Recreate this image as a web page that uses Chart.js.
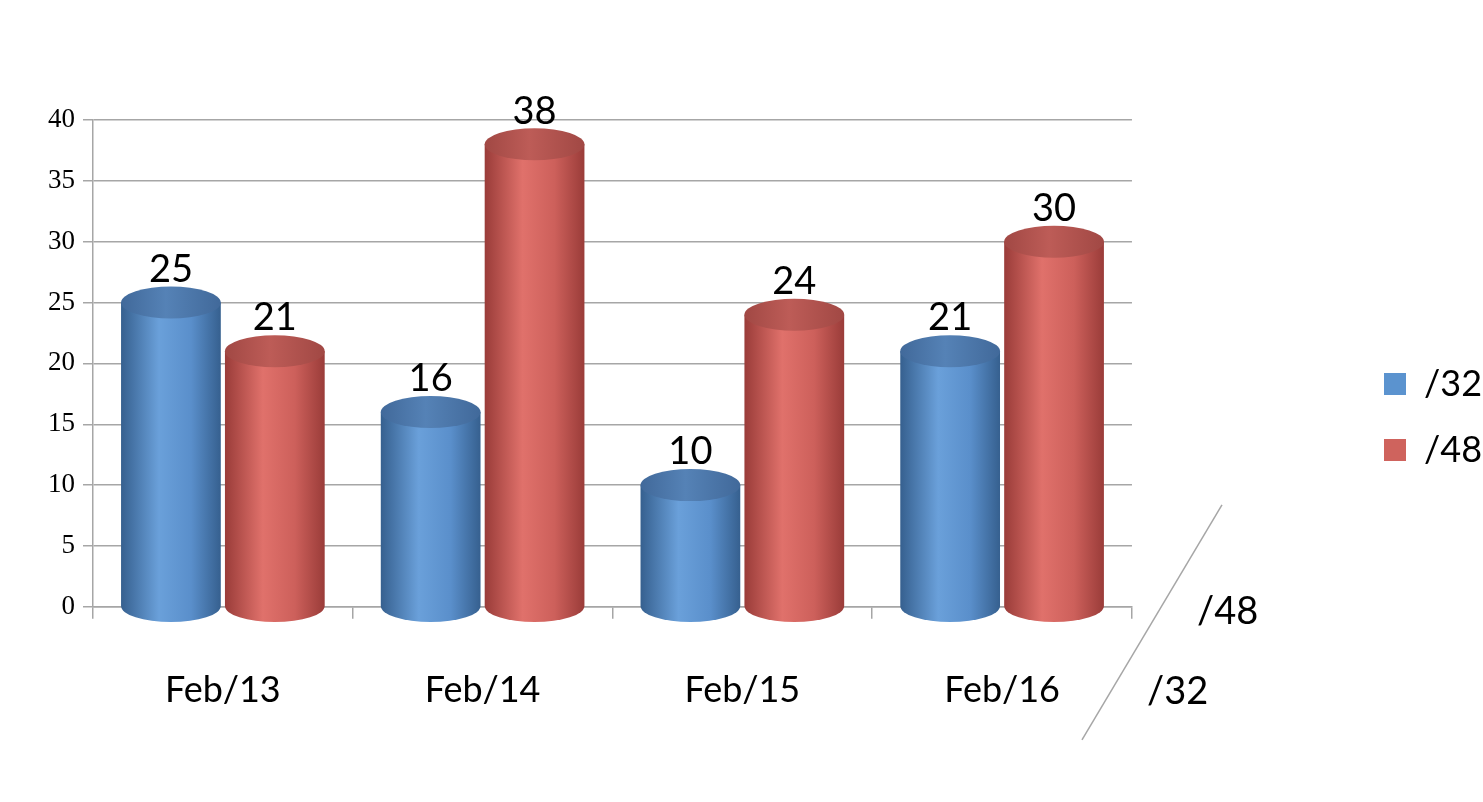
<!DOCTYPE html>
<html>
<head>
<meta charset="utf-8">
<script src="https://cdn.jsdelivr.net/npm/chart.js@4.4.1/dist/chart.umd.min.js"></script>
<style>
  html, body { margin: 0; padding: 0; background: #fff; }
  #wrap { width: 1483px; height: 802px; }
</style>
</head>
<body>
<div id="wrap"><canvas id="chart"></canvas></div>
<script>
const categories = ["Feb/13", "Feb/14", "Feb/15", "Feb/16"];
const seriesNames = ["/32", "/48"];
const values32 = [25, 16, 10, 21];
const values48 = [21, 38, 24, 30];
const yMin = 0;
const yMax = 40;
const yStep = 5;

const SANS = "Lato, 'Open Sans', sans-serif";
const GRID = "#a6a6a6";
const CAP_RY = 16;
const LEGEND_X = 1384;

const shades = {
  "/32": { edge: "#36608f", light: "#6aa0da", mid: "#5a8fcb", cap: "#41699a", capLight: "#5582b6" },
  "/48": { edge: "#9a3c39", light: "#e0716b", mid: "#cd605b", cap: "#a14844", capLight: "#bd5c57" },
};

// draw each bar as a shaded cylinder with its value on top
const cylinderPlugin = {
  id: "cylinders",
  beforeDatasetsDraw(chart) {
    const ctx = chart.ctx;
    chart.data.datasets.forEach((ds, i) => {
      const meta = chart.getDatasetMeta(i);
      const c = shades[ds.label];
      meta.data.forEach((bar, j) => {
        const { x, y, base, width } = bar.getProps(["x", "y", "base", "width"], true);
        const l = x - width / 2;
        const r = x + width / 2;
        const rx = width / 2;

        const body = ctx.createLinearGradient(l, 0, r, 0);
        body.addColorStop(0, c.edge);
        body.addColorStop(0.38, c.light);
        body.addColorStop(0.7, c.mid);
        body.addColorStop(1, c.edge);

        ctx.save();
        ctx.fillStyle = body;
        ctx.beginPath();
        ctx.moveTo(l, y);
        ctx.lineTo(l, base);
        ctx.ellipse(x, base, rx, CAP_RY, 0, Math.PI, 0, true);
        ctx.lineTo(r, y);
        ctx.closePath();
        ctx.fill();

        const cap = ctx.createLinearGradient(l, 0, r, 0);
        cap.addColorStop(0, c.cap);
        cap.addColorStop(0.45, c.capLight);
        cap.addColorStop(1, c.cap);
        ctx.fillStyle = cap;
        ctx.beginPath();
        ctx.ellipse(x, y, rx, CAP_RY, 0, 0, Math.PI * 2);
        ctx.fill();

        ctx.fillStyle = "#000";
        ctx.font = `38px ${SANS}`;
        ctx.textAlign = "center";
        ctx.textBaseline = "bottom";
        ctx.fillText(String(ds.data[j]), x, y - CAP_RY + 2);
        ctx.restore();
      });
    });
    return false;
  },
};

// move the legend over to the right edge, leaving room for the depth labels
const legendShift = {
  id: "legendShift",
  afterLayout(chart) {
    const lg = chart.legend;
    const dx = LEGEND_X - (lg.left + lg.options.labels.padding);
    lg.left += dx;
    lg.right += dx;
    lg.top -= 24;
    lg.bottom -= 24;
  },
};

// series names along the depth side, like the 3D original
const depthLabels = {
  id: "depthLabels",
  afterDraw(chart) {
    const { ctx, chartArea } = chart;
    ctx.save();
    ctx.strokeStyle = GRID;
    ctx.lineWidth = 1.5;
    ctx.beginPath();
    ctx.moveTo(chartArea.right - 50, chartArea.bottom + 133);
    ctx.lineTo(chartArea.right + 90, chartArea.bottom - 102);
    ctx.stroke();
    ctx.fillStyle = "#000";
    ctx.font = `38px ${SANS}`;
    ctx.textAlign = "left";
    ctx.textBaseline = "middle";
    ctx.fillText(seriesNames[1], chartArea.right + 65, chartArea.bottom + 5);
    ctx.fillText(seriesNames[0], chartArea.right + 15, chartArea.bottom + 85);
    ctx.restore();
  },
};

new Chart(document.getElementById("chart"), {
  type: "bar",
  data: {
    labels: categories,
    datasets: [
      { label: seriesNames[0], data: values32, backgroundColor: "#5b93cf" },
      { label: seriesNames[1], data: values48, backgroundColor: "#cf635d" },
    ],
  },
  options: {
    responsive: true,
    maintainAspectRatio: false,
    animation: false,
    categoryPercentage: 0.8,
    barPercentage: 0.96,
    layout: { padding: { top: 120, left: 40, right: 213, bottom: 40 } },
    scales: {
      x: {
        grid: { drawOnChartArea: false, color: GRID, lineWidth: 1.5, tickLength: 12 },
        border: { color: GRID, width: 1.5 },
        ticks: { color: "#000", padding: 50, font: { family: SANS, size: 36 } },
      },
      y: {
        min: yMin,
        max: yMax,
        ticks: { stepSize: yStep, color: "#000", padding: 8, font: { family: "'Liberation Serif', serif", size: 27 } },
        grid: { color: GRID, lineWidth: 1.5, tickLength: 10 },
        border: { color: GRID, width: 1.5 },
      },
    },
    plugins: {
      legend: {
        position: "right",
        labels: { boxWidth: 22, boxHeight: 22, padding: 30, color: "#000", font: { family: SANS, size: 36 } },
      },
      tooltip: { enabled: false },
    },
  },
  plugins: [cylinderPlugin, legendShift, depthLabels],
});
</script>
</body>
</html>
